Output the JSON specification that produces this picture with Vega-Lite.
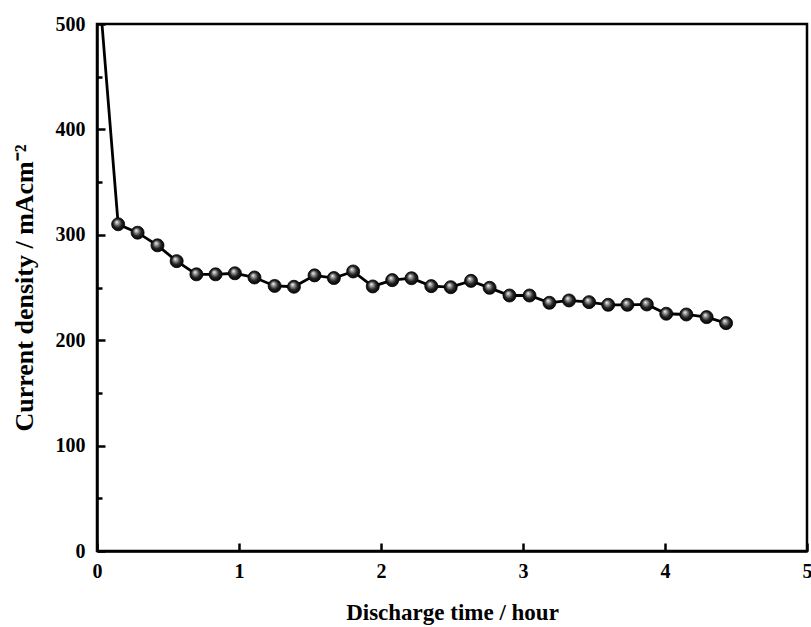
{
  "$schema": "https://vega.github.io/schema/vega-lite/v6.json",
  "width": 710,
  "height": 527,
  "autosize": "none",
  "padding": {"left": 97, "top": 24, "right": 4, "bottom": 76},
  "background": "white",
  "config": {
    "view": {"stroke": "black", "strokeWidth": 2.5},
    "font": "Liberation Serif",
    "axis": {
      "domainColor": "black", "domainWidth": 2.5, "tickColor": "black", "tickWidth": 2.5,
      "labelFont": "Liberation Serif", "labelFontWeight": "bold", "labelFontSize": 20, "labelColor": "black",
      "titleFont": "Liberation Serif", "titleFontWeight": "bold", "titleFontSize": 23, "titleColor": "black",
      "grid": false
    }
  },
  "data": {"values": [
    {"t": 0.035, "j": 500, "m": false},
    {"t": 0.149, "j": 310, "m": true},
    {"t": 0.286, "j": 302, "m": true},
    {"t": 0.426, "j": 290, "m": true},
    {"t": 0.561, "j": 275, "m": true},
    {"t": 0.700, "j": 262.5, "m": true},
    {"t": 0.835, "j": 262.5, "m": true},
    {"t": 0.971, "j": 263.5, "m": true},
    {"t": 1.109, "j": 259.5, "m": true},
    {"t": 1.251, "j": 251.5, "m": true},
    {"t": 1.387, "j": 250.7, "m": true},
    {"t": 1.532, "j": 261.5, "m": true},
    {"t": 1.668, "j": 259, "m": true},
    {"t": 1.804, "j": 265.2, "m": true},
    {"t": 1.942, "j": 251, "m": true},
    {"t": 2.079, "j": 257, "m": true},
    {"t": 2.215, "j": 258.8, "m": true},
    {"t": 2.354, "j": 251.3, "m": true},
    {"t": 2.491, "j": 250.3, "m": true},
    {"t": 2.634, "j": 256.3, "m": true},
    {"t": 2.765, "j": 249.7, "m": true},
    {"t": 2.905, "j": 242.4, "m": true},
    {"t": 3.046, "j": 242.4, "m": true},
    {"t": 3.186, "j": 235.5, "m": true},
    {"t": 3.324, "j": 237.7, "m": true},
    {"t": 3.465, "j": 236.1, "m": true},
    {"t": 3.600, "j": 233.6, "m": true},
    {"t": 3.735, "j": 233.6, "m": true},
    {"t": 3.872, "j": 233.9, "m": true},
    {"t": 4.009, "j": 225.1, "m": true},
    {"t": 4.150, "j": 224.4, "m": true},
    {"t": 4.293, "j": 221.9, "m": true},
    {"t": 4.430, "j": 216.2, "m": true}
  ]},
  "encoding": {
    "x": {"field": "t", "type": "quantitative",
      "scale": {"domain": [0, 5], "nice": false, "zero": false},
      "axis": {
        "title": "Discharge time / hour", "titlePadding": 20,
        "values": [0, 0.5, 1, 1.5, 2, 2.5, 3, 3.5, 4, 4.5, 5],
        "format": "d",
        "labelExpr": "datum.value % 1 === 0 ? datum.label : ''",
        "tickSize": {"condition": {"test": "datum.value % 1 === 0", "value": -8}, "value": -5},
        "labelPadding": 18, "labelFlush": false, "labelOverlap": false
      }},
    "y": {"field": "j", "type": "quantitative",
      "scale": {"domain": [0, 500], "nice": false},
      "axis": {
        "title": "Current density / mAcm⁻²", "titlePadding": 18, "titleFontSize": 26,
        "values": [0, 50, 100, 150, 200, 250, 300, 350, 400, 450, 500],
        "labelExpr": "datum.value % 100 === 0 ? datum.label : ''",
        "tickSize": {"condition": {"test": "datum.value % 100 === 0", "value": -8}, "value": -5},
        "labelPadding": 20, "labelFlush": false, "labelOverlap": false
      }}
  },
  "layer": [
    {"mark": {"type": "line", "color": "black", "strokeWidth": 2.8, "clip": true}},
    {"transform": [{"filter": "datum.m"}],
     "mark": {"type": "point", "shape": "circle", "filled": true, "size": 170, "opacity": 1,
       "stroke": "black", "strokeWidth": 0.8,
       "fill": {"gradient": "radial", "x1": 0.38, "y1": 0.32, "r1": 0, "x2": 0.5, "y2": 0.5, "r2": 0.55,
         "stops": [{"offset": 0, "color": "#ffffff"}, {"offset": 0.25, "color": "#9a9a9a"}, {"offset": 0.6, "color": "#222222"}, {"offset": 1, "color": "#000000"}]}}}
  ]
}
